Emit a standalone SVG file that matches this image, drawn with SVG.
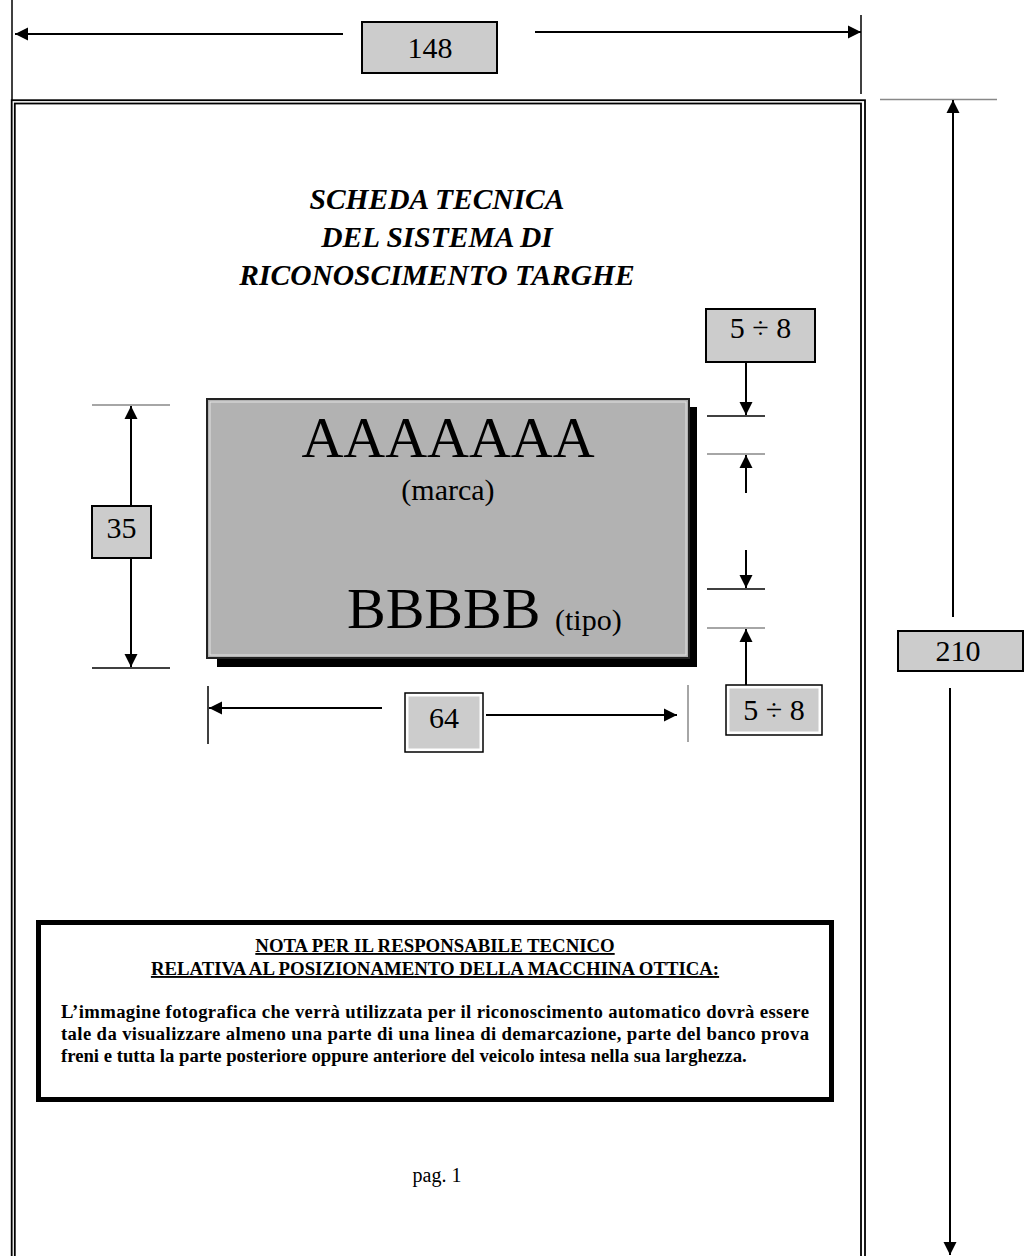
<svg xmlns="http://www.w3.org/2000/svg" width="1024" height="1256" viewBox="0 0 1024 1256">
<style>
text{font-family:"Liberation Serif","Times New Roman",serif;fill:#000}
.dim{font-size:30px;text-anchor:middle}
.box{fill:#cccccc;stroke:#000;stroke-width:2}
.dbl{fill:#fff;stroke:#000;stroke-width:1.5}
.dbli{fill:#cccccc;stroke:none}
.arr{stroke:#000;stroke-width:2;fill:none;marker-end:url(#ah)}
.ext{stroke:#000;stroke-width:1.5}
.extg{stroke:#888;stroke-width:1.5}
.title{font-size:29.5px;font-weight:bold;font-style:italic;text-anchor:middle}
.nh{font-size:18.8px;font-weight:bold;text-anchor:middle;text-decoration:underline}
.nb{font-size:18.7px;font-weight:bold}
</style>
<defs>
<marker id="ah" markerUnits="userSpaceOnUse" markerWidth="14" markerHeight="14" refX="13" refY="7" orient="auto">
<path d="M0,0.5 L13,7 L0,13.5 z" fill="#000"/>
</marker>
</defs>
<rect width="1024" height="1256" fill="#fff"/>
<g id="page">
<rect x="11.7" y="100.2" width="853.3" height="1200" fill="none" stroke="#000" stroke-width="1.8"/>
<rect x="14.8" y="103.5" width="846.2" height="1200" fill="none" stroke="#000" stroke-width="1.8"/>
</g>
<g id="connectors">
<line x1="12" y1="0" x2="12" y2="100" class="ext" stroke-width="2"/>
<line x1="861" y1="15" x2="861" y2="94" class="ext" stroke-width="2"/>
<line x1="343" y1="34" x2="15" y2="34" class="arr"/>
<line x1="535" y1="32" x2="861" y2="32" class="arr"/>
<line x1="880" y1="99.5" x2="997" y2="99.5" class="extg"/>
<line x1="953" y1="617" x2="953" y2="100" class="arr"/>
<line x1="950" y1="688" x2="950" y2="1255" class="arr"/>
<line x1="92" y1="405" x2="170" y2="405" class="extg"/>
<line x1="92" y1="668" x2="170" y2="668" class="ext"/>
<line x1="131" y1="506" x2="131" y2="406" class="arr"/>
<line x1="131" y1="558" x2="131" y2="667" class="arr"/>
<line x1="208" y1="686" x2="208" y2="744" class="ext" stroke-width="2.5"/>
<line x1="688" y1="685" x2="688" y2="742" class="extg"/>
<line x1="382" y1="708" x2="209" y2="708" class="arr"/>
<line x1="486" y1="715" x2="677" y2="715" class="arr"/>
<line x1="707" y1="416" x2="765" y2="416" class="ext"/>
<line x1="707" y1="454" x2="765" y2="454" class="extg"/>
<line x1="707" y1="589" x2="765" y2="589" class="ext"/>
<line x1="707" y1="628" x2="765" y2="628" class="extg"/>
<line x1="746" y1="362" x2="746" y2="415" class="arr"/>
<line x1="746" y1="493" x2="746" y2="455" class="arr"/>
<line x1="746" y1="550" x2="746" y2="588" class="arr"/>
<line x1="746" y1="685" x2="746" y2="629" class="arr"/>
</g>
<g id="dim148">
<rect x="362" y="22" width="135" height="51" class="box"/>
<text x="430" y="58" class="dim">148</text>
</g>
<g id="dim210">
<rect x="898" y="631" width="125" height="40" class="box"/>
<text x="958" y="661" class="dim">210</text>
</g>
<g id="title">
<text x="437" y="209" class="title">SCHEDA TECNICA</text>
<text x="437" y="247" class="title">DEL SISTEMA DI</text>
<text x="437" y="285" class="title">RICONOSCIMENTO TARGHE</text>
</g>
<g id="plate">
<rect x="217" y="407" width="480" height="260" fill="#000"/>
<rect x="207" y="399" width="482" height="259" fill="#b2b2b2" stroke="#222" stroke-width="2"/>
<rect x="210" y="402" width="476" height="253" fill="none" stroke="#e2e2e2" stroke-width="1"/>
<text x="448" y="457" font-size="58" text-anchor="middle">AAAAAAA</text>
<text x="448" y="500" font-size="30" text-anchor="middle">(marca)</text>
<text x="347" y="628" font-size="58">BBBBB</text>
<text x="555" y="630" font-size="30">(tipo)</text>
</g>
<g id="dim35">
<rect x="92" y="506" width="59" height="52" class="box"/>
<text x="121.5" y="538" class="dim">35</text>
</g>
<g id="dim64">
<rect x="405" y="693" width="78" height="59" class="dbl"/>
<rect x="408.5" y="696.5" width="71" height="52" class="dbli"/>
<text x="444" y="728" class="dim">64</text>
</g>
<g id="dim58top">
<rect x="706" y="309" width="109" height="53" class="box"/>
<text x="760.5" y="338" class="dim">5 ÷ 8</text>
</g>
<g id="dim58bottom">
<rect x="726" y="685" width="96" height="50" class="dbl"/>
<rect x="729.5" y="688.5" width="89" height="43" class="dbli"/>
<text x="774" y="720" class="dim">5 ÷ 8</text>
</g>
<g id="note">
<rect x="38.5" y="922.5" width="793" height="177" fill="#fff" stroke="#000" stroke-width="5"/>
<text x="435" y="952" class="nh">NOTA PER IL RESPONSABILE TECNICO</text>
<text x="435" y="975" class="nh">RELATIVA AL POSIZIONAMENTO DELLA MACCHINA OTTICA:</text>
<text x="61" y="1018" class="nb" textLength="748" lengthAdjust="spacing">L’immagine fotografica che verrà utilizzata per il riconoscimento automatico dovrà essere</text>
<text x="61" y="1040" class="nb" textLength="748" lengthAdjust="spacing">tale da visualizzare almeno una parte di una linea di demarcazione, parte del banco prova</text>
<text x="61" y="1062" class="nb">freni e tutta la parte posteriore oppure anteriore del veicolo intesa nella sua larghezza.</text>
</g>
<g id="footer">
<text x="437" y="1182" font-size="20" text-anchor="middle">pag. 1</text>
</g>
</svg>
